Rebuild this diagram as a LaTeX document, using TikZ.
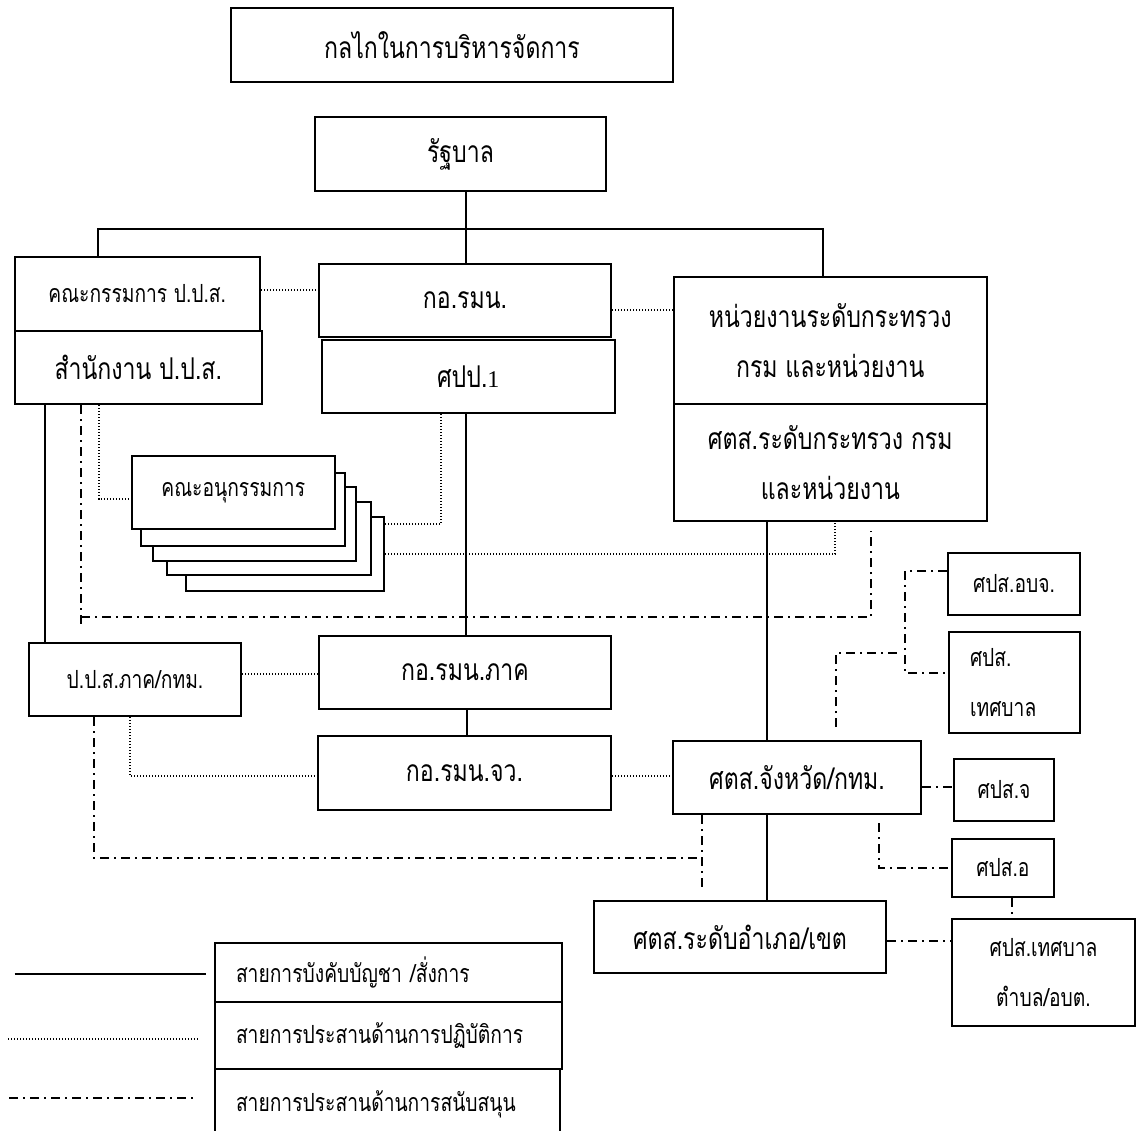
\documentclass[tikz,border=0pt]{standalone}
\usepackage{fontspec}
\setmainfont{Loma}[Script=Thai,FakeStretch=0.77]
\newfontfamily\latinserif{Liberation Serif}
\newcommand\bigf{\fontsize{15}{25}\selectfont}
\newcommand\smallf{\fontsize{12.5}{25}\selectfont}
\newcommand\mybox[7]{\node[#1,minimum width={(#5-#3)*0.5pt},minimum height={(#6-#4)*0.5pt}] (#2) at ({(#3+#5)/2},{(#4+#6)/2}) {#7};}
\begin{document}
\begin{tikzpicture}[x=0.5pt,y=-0.5pt,
  box/.style={draw, line width=1pt, fill=white, inner sep=0pt, align=center, font=\bigf},
  sbox/.style={box, font=\smallf},
  lbox/.style={sbox, align=left, inner xsep=10.5pt},
  cmdline/.style={line width=1pt},
  opsline/.style={line width=0.8pt, dash pattern=on 0.7pt off 0.8pt},
  supline/.style={line width=0.9pt, dash pattern=on 4.5pt off 2.5pt on 1pt off 2.5pt}]
\useasboundingbox (0,0) rectangle (1142,1131);
% top
\mybox{box}{title}{231}{8}{673}{82}{กลไกในการบริหารจัดการ}
\mybox{box}{gov}{315}{117}{606}{191}{รัฐบาล}
% left column
\mybox{sbox}{comm}{14.5}{257}{260}{331}{คณะกรรมการ ป.ป.ส.}
\mybox{box}{onc}{14.5}{331}{262}{404}{สำนักงาน ป.ป.ส.}
% centre column
\mybox{box}{isoc}{319}{264}{611}{337}{กอ.รมน.}
\mybox{box}{spp}{322}{340}{614.5}{413}{ศปป.{\latinserif\fontsize{12}{25}\selectfont 1}}
% right column
\mybox{box}{mini}{673.6}{277}{987}{404}{หน่วยงานระดับกระทรวง\\กรม และหน่วยงาน}
\mybox{box}{ctm}{673.6}{404}{987}{521}{ศตส.ระดับกระทรวง กรม\\และหน่วยงาน}
% stack of sub-committees
\mybox{sbox}{st5}{185.5}{517}{384}{591}{}
\mybox{sbox}{st4}{167}{502}{371}{575}{}
\mybox{sbox}{st3}{152.7}{487}{356}{561}{}
\mybox{sbox}{st2}{141}{473}{344.7}{546}{}
\mybox{sbox}{st1}{131.6}{456}{335}{529}{คณะอนุกรรมการ}
% lower levels
\mybox{sbox}{reg}{29}{643}{241}{716}{ป.ป.ส.ภาค/กทม.}
\mybox{box}{isocr}{319}{636}{611}{709}{กอ.รมน.ภาค}
\mybox{box}{isocp}{318}{736}{611}{810}{กอ.รมน.จว.}
\mybox{box}{ctp}{673}{741}{921}{814}{ศตส.จังหวัด/กทม.}
\mybox{box}{ctd}{594}{901}{886}{973}{ศตส.ระดับอำเภอ/เขต}
% local centres
\mybox{sbox}{pao}{948}{553}{1080}{615}{ศปส.อบจ.}
\node[lbox,minimum width={(1080-949)*0.5pt},minimum height={(733-632)*0.5pt},text width={(1080-949-42)*0.5pt}] (mun) at ({(949+1080)/2},{(632+733)/2}) {ศปส.\\เทศบาล};
\mybox{sbox}{pj}{954}{759}{1054}{821}{ศปส.จ}
\mybox{sbox}{pa}{952}{839}{1054}{897}{ศปส.อ}
\mybox{sbox}{tm}{952}{919}{1135}{1026}{ศปส.เทศบาล\\ตำบล/อบต.}
% legend
\node[lbox,minimum width={(562-215)*0.5pt},minimum height={(1002-943)*0.5pt},text width={(562-215-42)*0.5pt}] (lg1) at ({(215+562)/2},{(943+1002)/2}) {สายการบังคับบัญชา /สั่งการ};
\node[lbox,minimum width={(562-215)*0.5pt},minimum height={(1069-1002)*0.5pt},text width={(562-215-42)*0.5pt}] (lg2) at ({(215+562)/2},{(1002+1069)/2}) {สายการประสานด้านการปฏิบัติการ};
\node[lbox,minimum width={(560-215)*0.5pt},minimum height={(1140-1069)*0.5pt},text width={(560-215-42)*0.5pt}] (lg3) at ({(215+560)/2},{(1069+1140)/2}) {สายการประสานด้านการสนับสนุน};
% ---- command lines
\coordinate (hL) at (98,229);
\coordinate (hR) at (823,229);
\draw[cmdline] (isoc.north -| 466,0) -- (gov.south -| 466,0);
\draw[cmdline] (comm.north -| hL) -- (hL) -- (hR) -- (mini.north -| hR);
\draw[cmdline] (spp.south -| 466,0) -- (isocr.north -| 466,0);
\draw[cmdline] (isocr.south -| 467,0) -- (isocp.north -| 467,0);
\draw[cmdline] (ctm.south -| 767,0) -- (ctp.north -| 767,0);
\draw[cmdline] (ctp.south -| 767,0) -- (ctd.north -| 767,0);
\draw[cmdline] (onc.south -| 45,0) -- (reg.north -| 45,0);
% ---- operational coordination
\draw[opsline] (comm.east |- 0,290) -- (isoc.west |- 0,290);
\draw[opsline] (isoc.east |- 0,310) -- (mini.west |- 0,310);
\draw[opsline] (onc.south -| 99,0) -- (99,499) -- (st1.west |- 0,499);
\draw[opsline] (spp.south -| 441,0) -- (441,524) -- (st5.east |- 0,524);
\draw[opsline] (st5.east |- 0,554) -- (835,554) -- (ctm.south -| 835,0);
\draw[opsline] (reg.east |- 0,674) -- (isocr.west |- 0,674);
\draw[opsline] (reg.south -| 130,0) -- (130,776) -- (isocp.west |- 0,776);
\draw[opsline] (isocp.east |- 0,776) -- (ctp.west |- 0,776);
% ---- support coordination
\draw[supline] (onc.south -| 81,0) -- (81,628);
\draw[supline] (81,617) -- (871,617) -- (871,531);
\draw[supline] (reg.south -| 94,0) -- (94,858) -- (702,858);
\draw[supline] (ctp.south -| 702,0) -- (702,888);
\draw[supline] (836,727) -- (836,653) -- (899,653);
\draw[supline] (pao.west |- 0,571) -- (905,571) -- (905,673) -- (mun.west |- 0,673);
\draw[supline] (ctp.east |- 0,787) -- (pj.west |- 0,787);
\draw[supline] (ctp.south -| 879,0) ++(0,8) -- (879,868) -- (pa.west |- 0,868);
\draw[supline] (pa.south -| 1012,0) -- (tm.north -| 1012,0);
\draw[supline] (ctd.east |- 0,941) -- (tm.west |- 0,941);
% ---- legend samples
\coordinate (a1) at (14.5,974); \coordinate (a2) at (206,974);
\coordinate (b1) at (8,1039);   \coordinate (b2) at (199,1039);
\coordinate (c1) at (9,1098);   \coordinate (c2) at (196,1098);
\draw[cmdline] (a1) -- (a2);
\draw[opsline] (b1) -- (b2);
\draw[supline] (c1) -- (c2);
\end{tikzpicture}
\end{document}
